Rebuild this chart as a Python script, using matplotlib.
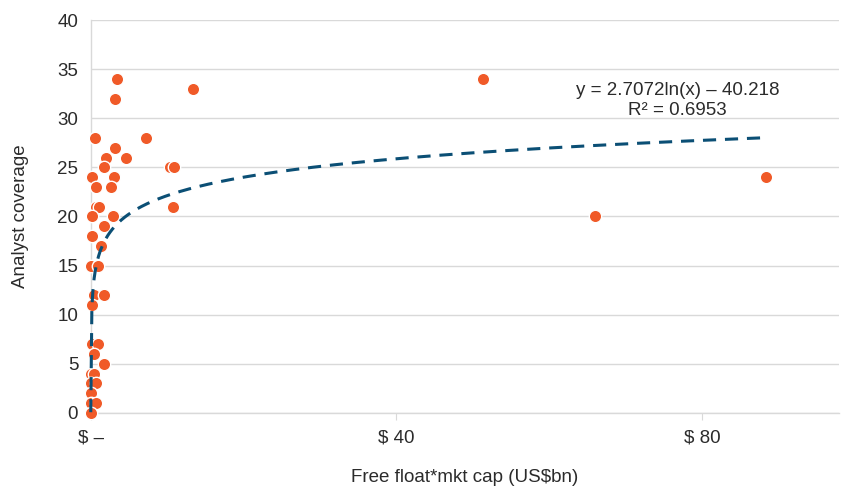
import numpy as np
import matplotlib.pyplot as plt
from matplotlib import font_manager

# free float * market cap (US$bn) and analyst coverage
float_mcap = [0.5, 7.2, 3.2, 2.0, 4.6, 1.7, 10.4, 10.9, 0.13, 3.0, 0.74, 2.6,
              0.65, 1.1, 10.75, 0.13, 2.9, 1.7, 0.13, 1.35, 0.07, 1.0, 0.47, 1.7,
              0.13, 0.13, 0.92, 0.39, 1.7, 0.0, 0.43, 0.0, 0.7, 0.0, 0.0, 0.7,
              0.0, 51.4, 66.0, 88.4, 13.4, 3.45, 3.2]
coverage = [28, 28, 27, 26, 26, 25, 25, 25, 24, 24, 23, 23,
            21, 21, 21, 20, 20, 19, 18, 17, 15, 15, 12, 12,
            11, 7, 7, 6, 5, 4, 4, 3, 3, 2, 1, 1,
            0, 34, 20, 24, 33, 34, 32]

# log trendline fitted on raw US$ values
trend_a = 2.7072
trend_b = -40.218
trend_label = "y = 2.7072ln(x) \u2013 40.218\nR\u00b2 = 0.6953"

x_ticks = [0, 40, 80]
x_tick_labels = ["$ \u2013", "$ 40", "$ 80"]

names = {f.name for f in font_manager.fontManager.ttflist}
font = "Liberation Sans Narrow" if "Liberation Sans Narrow" in names else "Liberation Sans"
plt.rcParams['font.family'] = [font, 'DejaVu Sans']

text_col = '#2b2b2b'
grid_col = '#d9d9d9'
fs = 13.5

fig = plt.figure(figsize=(8.44, 4.88), dpi=100)
ax = fig.add_axes([0.1075, 0.154, 0.887, 0.805])

ax.set_xlim(0, 98)
ax.set_ylim(0, 40)

ax.yaxis.grid(True, color=grid_col, linewidth=1)
ax.set_axisbelow(True)
for side in ['top', 'right']:
    ax.spines[side].set_visible(False)
for side in ['left', 'bottom']:
    ax.spines[side].set_color(grid_col)
    ax.spines[side].set_linewidth(1)

ax.scatter(float_mcap, coverage, s=80, color='#F05A28', edgecolor='white',
           linewidth=1, zorder=3, clip_on=False)

xt = np.linspace(0.0029, max(float_mcap), 600)
yt = trend_a * np.log(xt * 1e9) + trend_b
ax.plot(xt, yt, linestyle=(0, (4.3, 2.9)), color='#0B4F75', linewidth=2.2, zorder=4,
        clip_on=False)

ax.text(0.784, 0.795, trend_label, transform=ax.transAxes, ha='center', va='center',
        fontsize=fs, color=text_col, linespacing=1.2)

ax.set_xticks(x_ticks)
ax.set_xticklabels(x_tick_labels)
ax.set_yticks(range(0, 41, 5))
ax.tick_params(axis='x', length=5, color=grid_col, labelsize=fs, labelcolor=text_col, pad=7)
ax.tick_params(axis='y', length=0, labelsize=fs, labelcolor=text_col, pad=9)

ax.set_xlabel("Free float*mkt cap (US$bn)", fontsize=fs, color=text_col, labelpad=16)
ax.set_ylabel("Analyst coverage", fontsize=fs, color=text_col, labelpad=20)

fig.savefig("out.png", dpi=100)
